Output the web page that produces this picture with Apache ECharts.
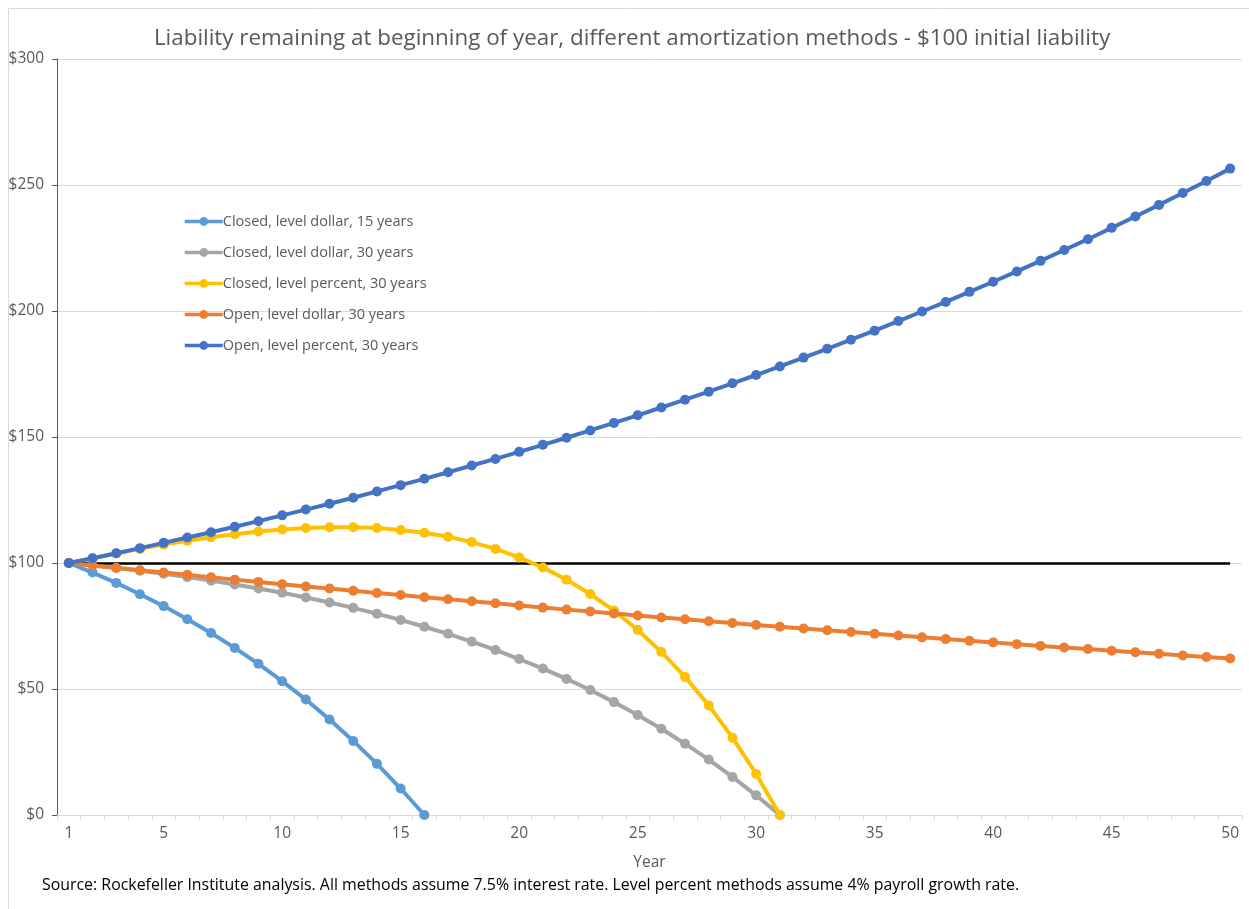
<!DOCTYPE html>
<html>
<head>
<meta charset="utf-8">
<script src="https://cdn.jsdelivr.net/npm/echarts@6/dist/echarts.min.js"></script>
<style>
  html, body { margin: 0; padding: 0; background: #fff; }
  #chart { width: 1249px; height: 909px; }
</style>
</head>
<body>
<div id="chart"></div>
<script>
    // years 1..50
    var years = [];
    for (var y = 1; y <= 50; y++) { years.push(String(y)); }

    var closedDollar15 = [100, 96.2, 92.1, 87.6, 82.9, 77.7, 72.2, 66.3, 60.0, 53.1,
        45.8, 37.9, 29.4, 20.3, 10.5, 0];
    var closedDollar30 = [100, 99.0, 98.0, 96.9, 95.7, 94.4, 93.0, 91.5, 89.9, 88.2,
        86.3, 84.3, 82.2, 79.9, 77.4, 74.7, 71.9, 68.8, 65.5, 61.9,
        58.1, 54.0, 49.6, 44.8, 39.7, 34.2, 28.3, 22.0, 15.1, 7.8, 0];
    var closedPercent30 = [100, 101.9, 103.8, 105.6, 107.3, 108.8, 110.2, 111.4, 112.5, 113.3,
        113.9, 114.2, 114.2, 113.9, 113.1, 112.0, 110.4, 108.3, 105.6, 102.2,
        98.2, 93.4, 87.7, 81.1, 73.5, 64.7, 54.8, 43.5, 30.7, 16.3, 0];
    var openDollar30 = [100, 99.0, 98.1, 97.1, 96.2, 95.3, 94.3, 93.4, 92.5, 91.6,
        90.7, 89.9, 89.0, 88.1, 87.3, 86.4, 85.6, 84.8, 84.0, 83.1,
        82.3, 81.5, 80.8, 80.0, 79.2, 78.4, 77.7, 76.9, 76.2, 75.4,
        74.7, 74.0, 73.3, 72.6, 71.9, 71.2, 70.5, 69.8, 69.1, 68.5,
        67.8, 67.1, 66.5, 65.9, 65.2, 64.6, 64.0, 63.3, 62.7, 62.1];
    var openPercent30 = [100, 101.9, 103.9, 105.9, 108.0, 110.1, 112.2, 114.4, 116.6, 118.9,
        121.2, 123.5, 125.9, 128.4, 130.9, 133.4, 136.0, 138.7, 141.3, 144.1,
        146.9, 149.7, 152.6, 155.6, 158.6, 161.7, 164.8, 168.0, 171.3, 174.6,
        178.0, 181.5, 185.0, 188.6, 192.2, 196.0, 199.8, 203.6, 207.6, 211.6,
        215.7, 219.9, 224.2, 228.5, 233.0, 237.5, 242.1, 246.8, 251.6, 256.5];

    var seriesNames = ["Closed, level dollar, 15 years", "Closed, level dollar, 30 years",
        "Closed, level percent, 30 years", "Open, level dollar, 30 years", "Open, level percent, 30 years"];
    var seriesData = [closedDollar15, closedDollar30, closedPercent30, openDollar30, openPercent30];
    var seriesColors = ["#5B9BD5", "#A5A5A5", "#FFC000", "#ED7D31", "#4472C4"];

    var font = "'Open Sans', sans-serif";
    var chart = echarts.init(document.getElementById("chart"));

    var series = [];
    for (var i = 0; i < seriesData.length; i++) {
        series.push({
            name: seriesNames[i],
            type: "line",
            data: seriesData[i],
            symbol: "circle",
            symbolSize: 10,
            color: seriesColors[i],
            lineStyle: { width: 4, color: seriesColors[i] },
            itemStyle: { color: seriesColors[i] },
            z: 3 + i,
            animation: false
        });
    }
    // black reference line at $100 (year 1 to year 50)
    series[0].markLine = {
        silent: true,
        symbol: "none",
        label: { show: false },
        lineStyle: { color: "#000", width: 2.5, type: "solid" },
        data: [[{ coord: ["1", 100] }, { coord: ["50", 100] }]]
    };

    var option = {
        backgroundColor: "#fff",
        animation: false,
        textStyle: { fontFamily: font },
        title: {
            text: "Liability remaining at beginning of year, different amortization methods - $100 initial liability",
            left: 627,
            textAlign: "center",
            top: 23,
            textStyle: { fontSize: 22.4, fontWeight: "normal", color: "#595959", fontFamily: font }
        },
        graphic: [
            { type: "rect", left: 6, top: 6, shape: { width: 1300, height: 960 },
              style: { fill: "none", stroke: "#d9d9d9", lineWidth: 1 }, z: -1 },
            { type: "text", left: 42, top: 877,
              style: { text: "Source: Rockefeller Institute analysis. All methods assume 7.5% interest rate. Level percent methods assume 4% payroll growth rate.",
                       fontSize: 15.9, fill: "#000", fontFamily: font } }
        ],
        legend: {
            orient: "vertical",
            left: 183,
            top: 214,
            padding: 0,
            itemGap: 16,
            itemWidth: 38,
            itemHeight: 11,
            lineStyle: { width: 3.5 },
            data: seriesNames,
            textStyle: { fontSize: 14.5, color: "#595959", fontFamily: font, padding: [0, 0, 0, -5] }
        },
        grid: { left: 57, right: 7, top: 59, bottom: 94, containLabel: false },
        xAxis: {
            type: "category",
            data: years,
            boundaryGap: true,
            name: "Year",
            nameLocation: "middle",
            nameGap: 40,
            nameTextStyle: { fontSize: 15.5, color: "#595959" },
            axisLine: { lineStyle: { color: "#d9d9d9" } },
            axisTick: { show: true, interval: 0, length: 5, lineStyle: { color: "#d9d9d9" } },
            axisLabel: {
                interval: function (idx, val) { return idx === 0 || (idx + 1) % 5 === 0; },
                fontSize: 15.5, color: "#595959", margin: 11
            }
        },
        yAxis: {
            type: "value",
            min: 0,
            max: 300,
            interval: 50,
            axisLine: { show: true, lineStyle: { color: "#595959" } },
            axisTick: { show: true, length: 5, lineStyle: { color: "#595959" } },
            splitLine: { lineStyle: { color: "#d9d9d9" } },
            axisLabel: {
                formatter: "${value}",
                fontSize: 15.5, color: "#595959", margin: 13
            }
        },
        series: series
    };

    chart.setOption(option);
</script>
</body>
</html>
